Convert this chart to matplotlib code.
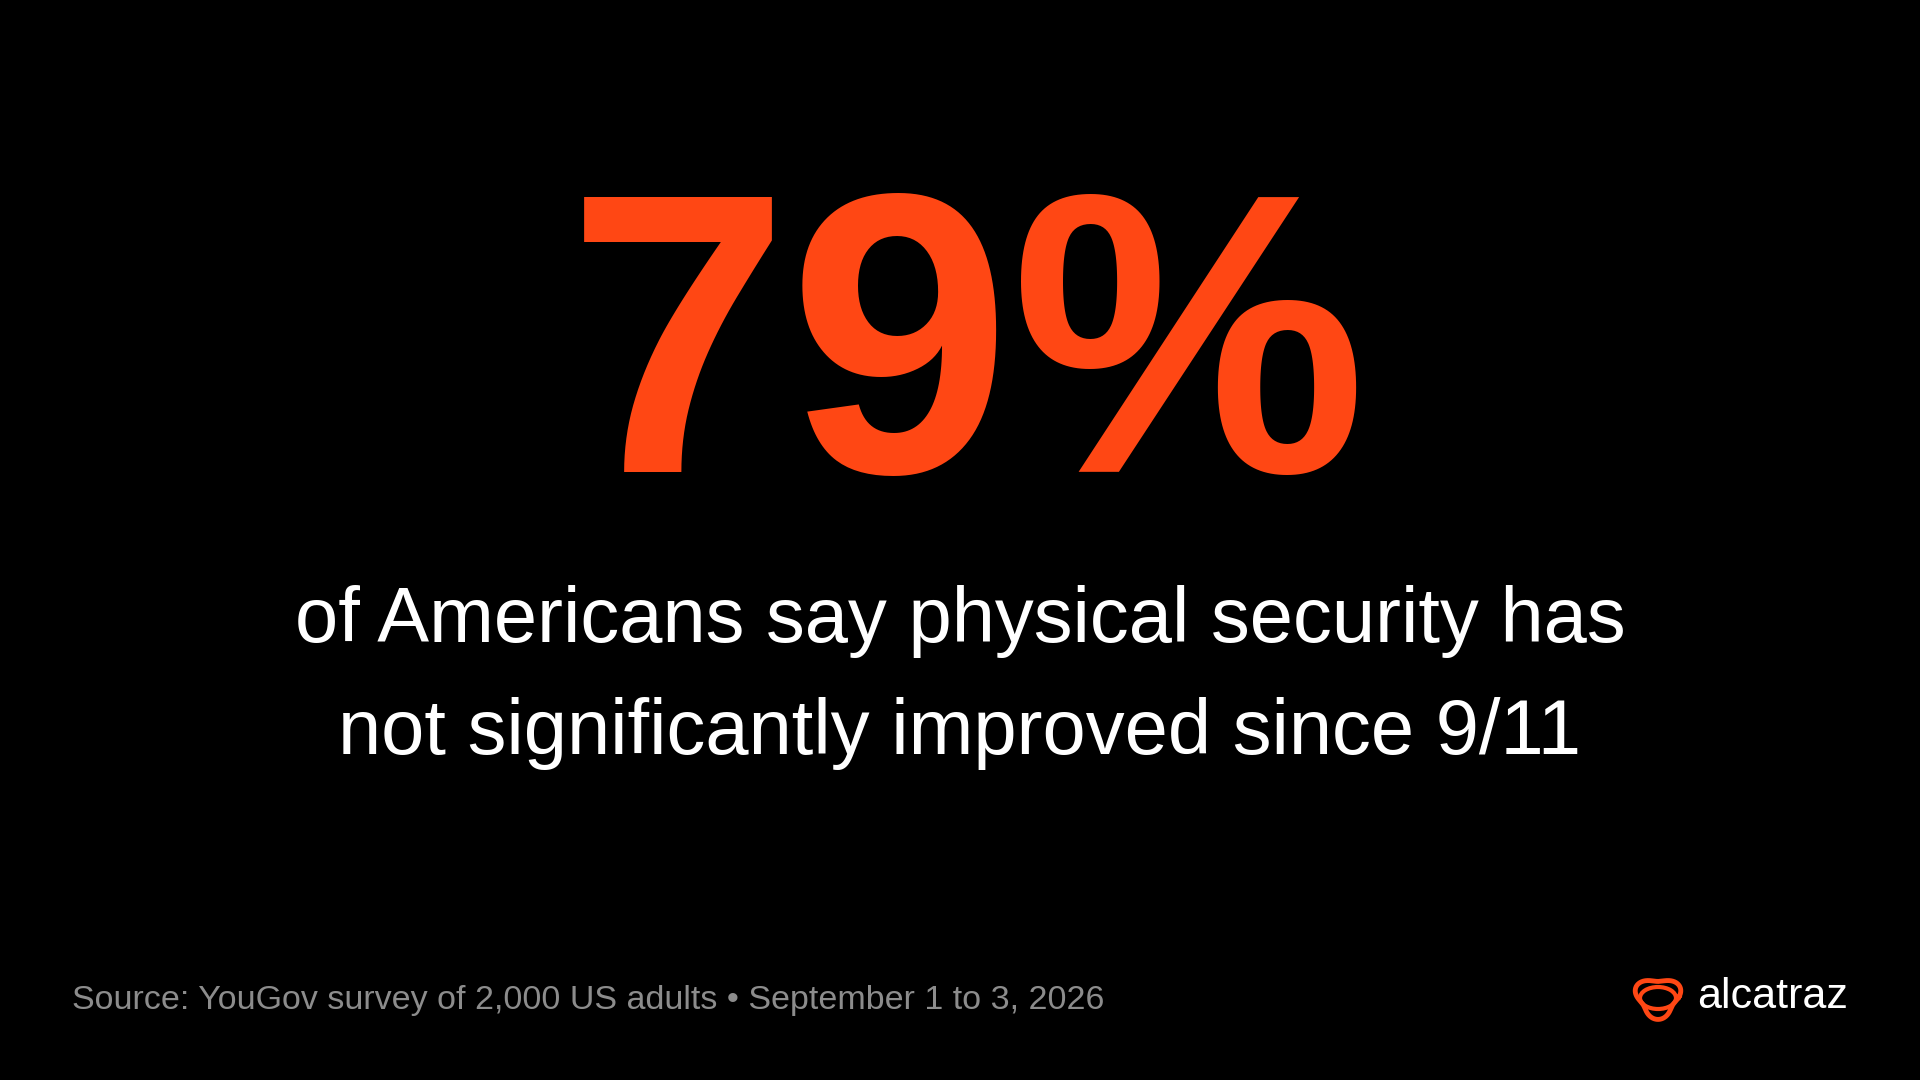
import matplotlib
matplotlib.use("Agg")
import matplotlib.pyplot as plt
import numpy as np
from matplotlib.patches import Ellipse

headline = "79%"
subtitle_lines = ["of Americans say physical security has", "not significantly improved since 9/11"]
source = "Source: YouGov survey of 2,000 US adults \u2022 September 1 to 3, 2026"
brand = "alcatraz"

ORANGE = "#FF4714"
fig = plt.figure(figsize=(19.2, 10.8), dpi=100, facecolor="black")
ax = fig.add_axes([0, 0, 1, 1])
ax.set_xlim(0, 1920); ax.set_ylim(1080, 0); ax.axis("off")
ax.set_facecolor("black")
F = ["Liberation Sans", "DejaVu Sans"]

ax.text(967, 368, headline, color=ORANGE, fontsize=288, fontweight="bold", family=F,
        ha="center", va="center")
for i, line in enumerate(subtitle_lines):
    ax.text(960, 622 + i * 112, line, color="white", fontsize=56, family=F, ha="center", va="center")
ax.text(72, 1001, source, color="#8c8c8c", fontsize=24.5, family=F, ha="left", va="center")
ax.text(1697, 997, brand, color="white", fontsize=31, family=F, ha="left", va="center")

# logo: rounded triangle outline (point down) + ellipse
cx, cy, r = 1658, 997, 19
t = np.linspace(0, 2*np.pi, 400)
k = 0.18
rr = r * (1 + k*np.cos(3*(t + np.pi/2)))
xs = cx + rr*np.cos(t)*1.1
ys = cy - rr*np.sin(t)
ax.plot(xs, ys, color=ORANGE, lw=3.5)
ax.add_patch(Ellipse((cx, cy + 1), 36, 22, fill=False, ec=ORANGE, lw=3))
fig.savefig("out.png", dpi=100, facecolor="black")
